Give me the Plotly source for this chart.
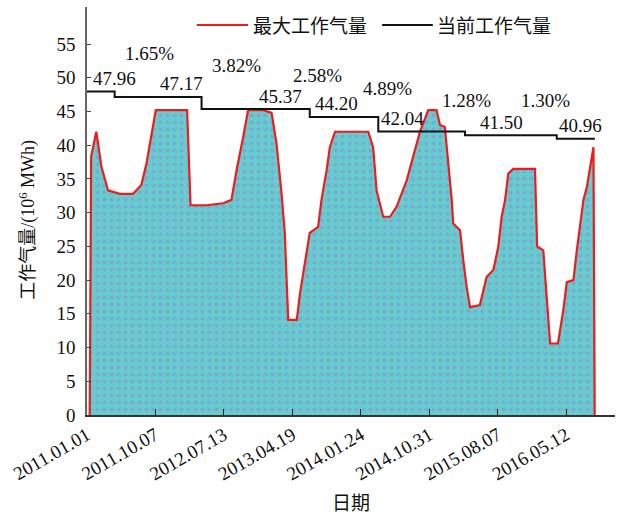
import plotly.graph_objects as go

# Maximum working gas volume (10^6 MWh), read at each turning point
dates = [
    "2011-01-12", "2011-01-18", "2011-02-08", "2011-02-22", "2011-03-01", "2011-03-28",
    "2011-05-15", "2011-07-08", "2011-08-11", "2011-09-01", "2011-09-21", "2011-10-09",
    "2012-02-14", "2012-02-28", "2012-05-03", "2012-07-10", "2012-08-13", "2012-09-03",
    "2012-09-30", "2012-10-20", "2012-12-21", "2013-01-24", "2013-02-13", "2013-03-06",
    "2013-03-19", "2013-03-26", "2013-04-02", "2013-05-07", "2013-05-20", "2013-06-29",
    "2013-08-02", "2013-08-16", "2013-09-06", "2013-09-19", "2013-10-10", "2014-02-23",
    "2014-03-15", "2014-03-29", "2014-04-25", "2014-05-23", "2014-06-19", "2014-07-30",
    "2014-09-02", "2014-09-22", "2014-10-26", "2014-11-29", "2014-12-13", "2015-01-02",
    "2015-01-16", "2015-01-30", "2015-02-05", "2015-03-05", "2015-03-18", "2015-04-01",
    "2015-04-15", "2015-05-25", "2015-06-15", "2015-06-22", "2015-07-19", "2015-08-08",
    "2015-08-22", "2015-09-05", "2015-09-18", "2015-10-09", "2016-01-05", "2016-01-14",
    "2016-02-08", "2016-02-22", "2016-03-07", "2016-04-08", "2016-04-30", "2016-05-14",
    "2016-06-10", "2016-06-24", "2016-07-21", "2016-08-04", "2016-08-31", "2016-09-05",
]
max_gas = [
    0, 38.3, 42.0, 38.3, 36.8, 33.3,
    32.8, 32.8, 34.1, 37.3, 41.2, 45.2,
    45.2, 31.1, 31.1, 31.4, 31.9, 36.3,
    41.2, 45.2, 45.2, 44.8, 40.3, 32.8,
    27.0, 19.5, 14.1, 14.1, 18.0, 27.0,
    27.9, 31.9, 36.3, 39.7, 42.0, 42.0,
    39.7, 33.3, 29.4, 29.4, 30.9, 34.8,
    39.3, 42.0, 45.2, 45.2, 43.0, 42.7,
    37.3, 31.9, 28.4, 27.4, 23.0, 19.0,
    16.0, 16.3, 19.5, 20.5, 21.5, 24.9,
    29.4, 31.9, 35.8, 36.5, 36.5, 25.0,
    24.4, 17.0, 10.6, 10.6, 15.6, 19.7,
    20.0, 24.4, 31.9, 33.8, 39.7, 0,
]

# Current working gas volume, one level per storage period
step_dates = ["2011-01-01", "2011-04-24", "2012-04-13", "2013-06-29",
              "2014-04-05", "2015-03-25", "2016-04-03", "2016-09-06"]
current_gas = [47.96, 47.17, 45.37, 44.20, 42.04, 41.50, 40.96]

# Axis ticks
tick_dates = ["2011-01-01", "2011-10-07", "2012-07-13", "2013-04-19",
              "2014-01-24", "2014-10-31", "2015-08-07", "2016-05-12"]
tick_labels = ["2011.01.01", "2011.10.07", "2012.07.13", "2013.04.19",
               "2014.01.24", "2014.10.31", "2015.08.07", "2016.05.12"]

# Where the level and decline labels sit
value_label_x = ["2011-04-25", "2012-01-24", "2013-03-03", "2013-10-18",
                 "2014-07-11", "2015-08-23", "2016-07-07"]
pct_label_x = ["2011-09-14", "2012-09-04", "2013-08-01", "2014-05-14",
               "2015-04-02", "2016-02-19"]
pct_label_y = [53.6, 51.9, 50.4, 48.4, 46.7, 46.7]

FONT = "Liberation Serif, 'Times New Roman', 'Noto Sans CJK SC', serif"
CJK = "'Noto Sans CJK SC', sans-serif"

fig = go.Figure()

fig.add_trace(go.Scatter(
    x=dates, y=max_gas, mode="lines", name="最大工作气量",
    line=dict(color="#ee1c1c", width=2.2),
    fill="tozeroy", fillcolor="#66cccc",
    fillpattern=dict(shape=".", bgcolor="#66cccc", fgcolor="#8c86e6",
                     size=7, solidity=0.25),
    showlegend=False,
))

fig.add_trace(go.Scatter(
    x=step_dates, y=current_gas + [current_gas[-1]], mode="lines",
    name="当前工作气量", line=dict(color="#111111", width=2, shape="hv"),
    showlegend=False,
))

annotations = []
for xd, v in zip(value_label_x, current_gas):
    annotations.append(dict(x=xd, y=v, xref="x", yref="y", text=f"{v:.2f}",
                            showarrow=False, yshift=13, yanchor="middle",
                            font=dict(family=FONT, size=19, color="#111")))
for i, (xd, yv) in enumerate(zip(pct_label_x, pct_label_y)):
    prev, cur = current_gas[i], current_gas[i + 1]
    pct = (prev - cur) / prev * 100
    annotations.append(dict(x=xd, y=yv, xref="x", yref="y", text=f"{pct:.2f}%",
                            showarrow=False, yanchor="middle",
                            font=dict(family=FONT, size=19, color="#111")))

# Legend drawn as line samples with labels
legend_items = [("最大工作气量", "#ee1c1c", 0.208, 0.305, 0.311),
                ("当前工作气量", "#111111", 0.559, 0.655, 0.659)]
shapes = []
for label, color, x0, x1, xt in legend_items:
    shapes.append(dict(type="line", xref="paper", yref="paper", x0=x0, x1=x1,
                       y0=0.956, y1=0.956, line=dict(color=color, width=2)))
    annotations.append(dict(x=xt, y=0.956, xref="paper", yref="paper", text=label,
                            showarrow=False, xanchor="left", yanchor="middle",
                            font=dict(family=CJK, size=19, color="#111")))

# Axis titles
annotations.append(dict(x=-0.112, y=0.478, xref="paper", yref="paper",
                        text="工作气量/(10<sup>6</sup> MWh)", textangle=-90,
                        showarrow=False, xanchor="center", yanchor="middle",
                        font=dict(family=FONT, size=18, color="#111")))
annotations.append(dict(x=0.5, y=-0.213, xref="paper", yref="paper",
                        text="日期", showarrow=False, xanchor="center",
                        yanchor="middle",
                        font=dict(family=CJK, size=19, color="#111")))

fig.update_layout(
    width=618, height=518,
    margin=dict(l=87, r=3, t=7, b=103),
    plot_bgcolor="white", paper_bgcolor="white",
    showlegend=False,
    annotations=annotations, shapes=shapes,
    font=dict(family=FONT, size=19, color="#111"),
)

fig.update_xaxes(
    range=["2011-01-01", "2016-11-27"],
    tickmode="array", tickvals=tick_dates, ticktext=tick_labels,
    tickangle=-30, ticks="inside", ticklen=6, tickcolor="#222",
    showline=True, linecolor="#333", linewidth=1.5,
    showgrid=False, zeroline=False,
    tickfont=dict(family=FONT, size=19, color="#111"),
)
fig.update_yaxes(
    range=[0, 60.5],
    tickmode="array", tickvals=list(range(0, 60, 5)),
    ticks="inside", ticklen=4, tickcolor="#444",
    showline=True, linecolor="#666", linewidth=1.5,
    showgrid=False, zeroline=False, ticklabelstandoff=6,
    tickfont=dict(family=FONT, size=19, color="#111"),
)

fig.write_html("out.html")
